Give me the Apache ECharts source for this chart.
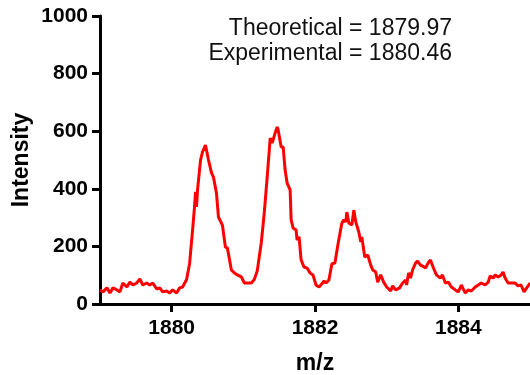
<!DOCTYPE html>
<html>
<head>
<meta charset="utf-8">
<script src="https://cdn.jsdelivr.net/npm/echarts@6/dist/echarts.min.js"></script>
<style>
html,body{margin:0;padding:0;background:#fff;}
#c{width:530px;height:375px;}
</style>
</head>
<body>
<div id="c"></div>
<script>
const mz = [1879.000,1879.042,1879.097,1879.139,1879.181,1879.236,1879.278,1879.319,1879.375,1879.417,1879.458,1879.514,1879.556,1879.597,1879.653,1879.694,1879.736,1879.792,1879.833,1879.875,1879.931,1879.972,1880.014,1880.069,1880.111,1880.153,1880.208,1880.250,1880.292,1880.319,1880.333,1880.347,1880.361,1880.403,1880.431,1880.472,1880.486,1880.514,1880.556,1880.583,1880.625,1880.653,1880.708,1880.750,1880.778,1880.833,1880.875,1880.917,1880.972,1881.014,1881.056,1881.111,1881.153,1881.194,1881.250,1881.292,1881.333,1881.375,1881.403,1881.444,1881.472,1881.486,1881.528,1881.556,1881.583,1881.611,1881.653,1881.667,1881.694,1881.736,1881.750,1881.778,1881.806,1881.847,1881.889,1881.931,1881.972,1882.014,1882.056,1882.097,1882.125,1882.153,1882.194,1882.236,1882.278,1882.319,1882.375,1882.403,1882.431,1882.444,1882.472,1882.514,1882.542,1882.569,1882.611,1882.639,1882.653,1882.694,1882.736,1882.778,1882.806,1882.847,1882.875,1882.917,1882.958,1883.000,1883.056,1883.083,1883.125,1883.181,1883.222,1883.264,1883.278,1883.306,1883.333,1883.361,1883.403,1883.431,1883.472,1883.514,1883.542,1883.583,1883.611,1883.653,1883.694,1883.750,1883.778,1883.819,1883.861,1883.903,1883.958,1884.000,1884.042,1884.097,1884.139,1884.181,1884.236,1884.278,1884.319,1884.375,1884.417,1884.444,1884.486,1884.514,1884.556,1884.597,1884.625,1884.653,1884.694,1884.736,1884.792,1884.833,1884.875,1884.917,1885.000];
const intensity = [49,42,56,38,56,49,42,73,59,76,66,73,87,66,73,66,73,52,56,42,45,38,49,38,56,59,85,140,257,337,389,337,396,500,528,552,552,500,455,441,385,302,274,198,194,118,108,101,94,73,73,73,85,115,212,316,441,576,559,594,615,604,545,545,465,420,396,292,264,257,222,233,153,128,125,108,101,66,59,70,80,73,83,140,142,205,281,292,285,319,281,274,326,285,250,215,233,163,170,135,118,111,76,101,76,59,45,63,49,56,73,83,66,108,90,118,142,149,135,130,125,144,153,125,101,90,101,73,76,59,49,42,66,38,49,45,59,66,73,66,76,97,90,101,94,101,111,90,73,73,73,63,66,42,73];
const xTicks = [1880, 1882, 1884];
const yTicks = [0, 200, 400, 600, 800, 1000];
const annotations = ["Theoretical = 1879.97", "Experimental = 1880.46"];

const chart = echarts.init(document.getElementById('c'));
const font = "'Liberation Sans', Arial, sans-serif";
const axisColor = '#000';
chart.setOption({
  animation: false,
  grid: {left: 100, right: 0, top: 16, bottom: 71, containLabel: false, outerBoundsMode: 'none'},
  xAxis: {
    type: 'value', min: 1879, max: 1885,
    name: 'm/z', nameLocation: 'middle', nameGap: 48, nameMoveOverlap: false,
    nameTextStyle: {fontFamily: font, fontWeight: 'bold', fontSize: 23, color: '#000'},
    axisLine: {show: true, onZero: false, lineStyle: {color: axisColor, width: 3}},
    axisTick: {show: true, length: 8, lineStyle: {color: axisColor, width: 3}, customValues: xTicks},
    axisLabel: {fontFamily: font, fontWeight: 'bold', fontSize: 21, color: '#000', margin: 14,
      customValues: xTicks, formatter: v => String(v)},
    splitLine: {show: false}
  },
  yAxis: {
    type: 'value', min: 0, max: 1000, interval: 200,
    name: 'Intensity', nameLocation: 'middle', nameGap: 67, nameRotate: 90, nameMoveOverlap: false,
    nameTextStyle: {fontFamily: font, fontWeight: 'bold', fontSize: 23, color: '#000'},
    axisLine: {show: true, lineStyle: {color: axisColor, width: 3}},
    axisTick: {show: true, length: 8, lineStyle: {color: axisColor, width: 3}},
    axisLabel: {fontFamily: font, fontWeight: 'bold', fontSize: 21, color: '#000', margin: 12,
      formatter: v => yTicks.includes(v) ? String(v) : ''},
    splitLine: {show: false}
  },
  graphic: annotations.map((t, i) => ({
    type: 'text', right: 78, top: 17 + i * 25,
    style: {text: t, font: "23px " + font, fill: '#111', textAlign: 'right'}
  })),
  series: [{
    type: 'line',
    data: mz.map((x, i) => [x, intensity[i]]),
    showSymbol: false,
    lineStyle: {color: '#ff0000', width: 3},
    clip: true
  }]
});
</script>
</body>
</html>
